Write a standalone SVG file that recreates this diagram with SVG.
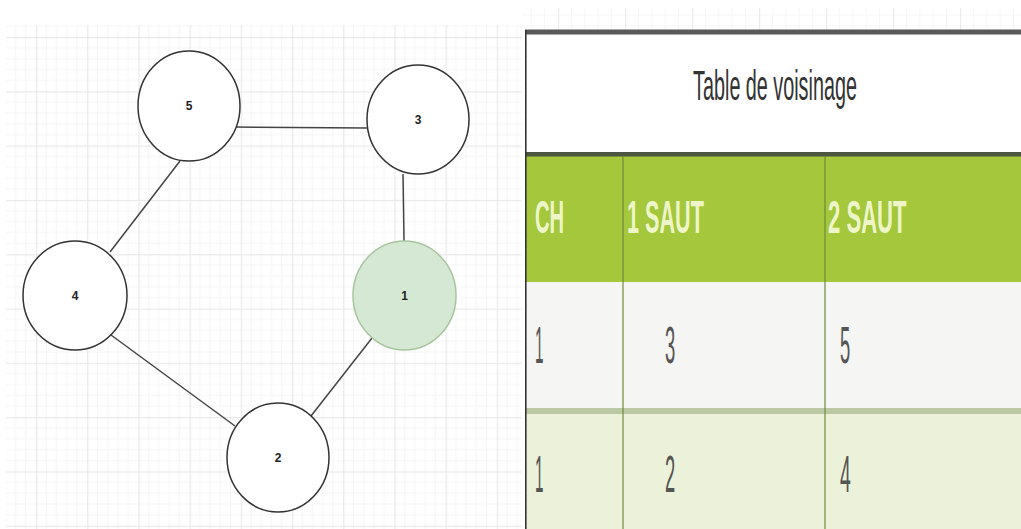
<svg xmlns="http://www.w3.org/2000/svg" width="1021" height="529" viewBox="0 0 1021 529">
  <defs>
    <pattern id="gridL" patternUnits="userSpaceOnUse" x="36" y="37" width="51.2" height="54.3">
      <g stroke="#f5f5f5" stroke-width="1">
        <line x1="10.24" y1="0" x2="10.24" y2="54.3"/>
        <line x1="20.48" y1="0" x2="20.48" y2="54.3"/>
        <line x1="30.72" y1="0" x2="30.72" y2="54.3"/>
        <line x1="40.96" y1="0" x2="40.96" y2="54.3"/>
        <line x1="0" y1="10.86" x2="51.2" y2="10.86"/>
        <line x1="0" y1="21.72" x2="51.2" y2="21.72"/>
        <line x1="0" y1="32.58" x2="51.2" y2="32.58"/>
        <line x1="0" y1="43.44" x2="51.2" y2="43.44"/>
      </g>
      <g stroke="#e9e9e9" stroke-width="1.2">
        <line x1="0.6" y1="0" x2="0.6" y2="54.3"/>
        <line x1="0" y1="0.6" x2="51.2" y2="0.6"/>
      </g>
    </pattern>
    <pattern id="gridR" patternUnits="userSpaceOnUse" x="558" y="8" width="67" height="67">
      <g stroke="#f6f6f6" stroke-width="1">
        <line x1="13.4" y1="0" x2="13.4" y2="67"/>
        <line x1="26.8" y1="0" x2="26.8" y2="67"/>
        <line x1="40.2" y1="0" x2="40.2" y2="67"/>
        <line x1="53.6" y1="0" x2="53.6" y2="67"/>
        <line x1="0" y1="7" x2="67" y2="7"/>
        <line x1="0" y1="18" x2="67" y2="18"/>
      </g>
      <line x1="0.6" y1="0" x2="0.6" y2="67" stroke="#ebebeb" stroke-width="1.2"/>
    </pattern>
    <style>
      .node { fill: #ffffff; stroke: #333333; stroke-width: 1.5; }
      .node-green { fill: #d5e8d4; stroke: #a8c49e; stroke-width: 1.5; }
      .lbl { font-family: "Liberation Sans", Arial, sans-serif; font-size: 12px; font-weight: bold; fill: #222222; text-anchor: middle; }
      .edge { stroke: #444444; stroke-width: 1.5; fill: none; }
      .title { font-family: "Liberation Sans", Arial, sans-serif; font-size: 43px; fill: #333333; text-anchor: middle; }
      .hdr { font-family: "Liberation Sans", Arial, sans-serif; font-size: 47px; font-weight: bold; fill: #eef6c9; }
      .cell { font-family: "Liberation Sans", Arial, sans-serif; font-size: 51px; fill: #555555; }
    </style>
  </defs>

  <rect x="0" y="0" width="1021" height="529" fill="#ffffff"/>
  <rect x="6" y="25" width="516" height="504" fill="url(#gridL)"/>
  <rect x="522" y="8" width="499" height="22" fill="url(#gridR)"/>

  <g id="connectors">
    <line class="edge" x1="236" y1="127" x2="367" y2="128"/>
    <line class="edge" x1="180" y1="161" x2="110" y2="252"/>
    <line class="edge" x1="403" y1="174" x2="404" y2="241"/>
    <line class="edge" x1="111" y1="335" x2="235" y2="426"/>
    <line class="edge" x1="372" y1="338" x2="311" y2="416"/>
  </g>

  <g id="node-5">
    <ellipse class="node" cx="189" cy="106" rx="51" ry="55"/>
    <text class="lbl" x="189" y="110">5</text>
  </g>
  <g id="node-3">
    <ellipse class="node" cx="418" cy="119.5" rx="51" ry="54.5"/>
    <text class="lbl" x="418" y="123.5">3</text>
  </g>
  <g id="node-4">
    <ellipse class="node" cx="75" cy="295.5" rx="52" ry="54.5"/>
    <text class="lbl" x="75" y="299.5">4</text>
  </g>
  <g id="node-1">
    <ellipse class="node-green" cx="404.5" cy="295.5" rx="51.5" ry="54.5"/>
    <text class="lbl" x="404.5" y="299.5">1</text>
  </g>
  <g id="node-2">
    <ellipse class="node" cx="278" cy="457.5" rx="51" ry="54.5"/>
    <text class="lbl" x="278" y="461.5">2</text>
  </g>

  <g id="table">
    <rect x="525" y="33" width="496" height="120" fill="#ffffff"/>
    <rect x="525" y="155" width="496" height="127" fill="#a4c73b"/>
    <rect x="525" y="282" width="496" height="126" fill="#f5f6f3"/>
    <rect x="525" y="408" width="496" height="6" fill="#bcc8a3"/>
    <rect x="525" y="414" width="496" height="115" fill="#ebf2d9"/>
    <rect x="525" y="29.5" width="496" height="5" fill="#5a5a5a"/>
    <rect x="525" y="152" width="496" height="4.5" fill="#4b5540"/>
    <line x1="525.8" y1="30" x2="525.8" y2="529" stroke="#333333" stroke-width="1.6"/>
    <line x1="623" y1="156" x2="623" y2="529" stroke="#6f8a3a" stroke-width="1.2"/>
    <line x1="825" y1="156" x2="825" y2="529" stroke="#6f8a3a" stroke-width="1.2"/>

    <text class="title" transform="translate(775,100) scale(0.46,1)" x="0" y="0">Table de voisinage</text>

    <text class="hdr" transform="translate(535,233) scale(0.43,1)" x="0" y="0">CH</text>
    <text class="hdr" transform="translate(627,233) scale(0.46,1)" x="0" y="0">1 SAUT</text>
    <text class="hdr" transform="translate(828,233) scale(0.47,1)" x="0" y="0">2 SAUT</text>

    <text class="cell" transform="translate(535,363) scale(0.3,1)" x="0" y="0">1</text>
    <text class="cell" transform="translate(665,363) scale(0.36,1)" x="0" y="0">3</text>
    <text class="cell" transform="translate(840,363) scale(0.36,1)" x="0" y="0">5</text>

    <text class="cell" transform="translate(535,492) scale(0.3,1)" x="0" y="0">1</text>
    <text class="cell" transform="translate(665,492) scale(0.36,1)" x="0" y="0">2</text>
    <text class="cell" transform="translate(840,492) scale(0.38,1)" x="0" y="0">4</text>
  </g>
</svg>
